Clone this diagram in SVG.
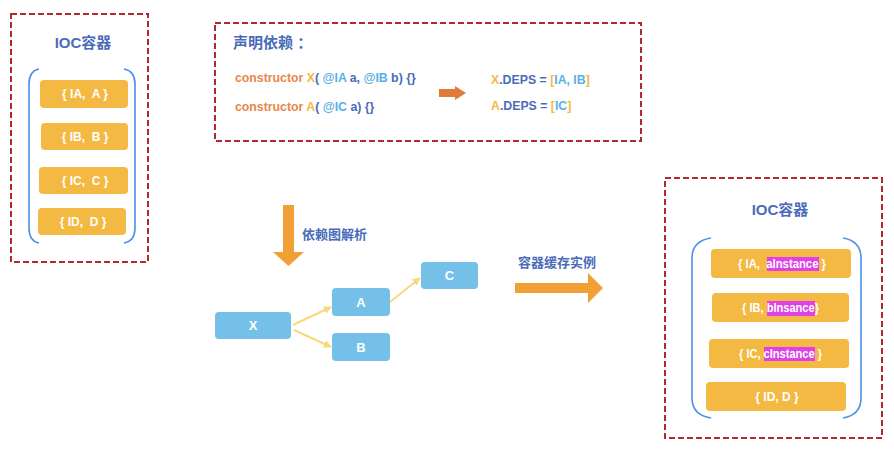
<svg xmlns="http://www.w3.org/2000/svg" width="894" height="451" viewBox="0 0 894 451">
<style>
.frame{fill:none;stroke:#b3282d;stroke-width:2;stroke-dasharray:6 3}
.brk{fill:none;stroke:#4a90e8;stroke-width:1.6}
.ybox{fill:#f4b942}
.bbox{fill:#74c0e8}
.wt{font-family:"Liberation Sans",Arial,sans-serif;font-weight:bold;fill:#fff;font-size:12px;white-space:pre}
.nt{font-family:"Liberation Sans",Arial,sans-serif;font-weight:bold;fill:#fff;font-size:13px;text-anchor:middle}
.title{font-family:"Liberation Sans","Noto Sans CJK SC",sans-serif;font-weight:bold;fill:#4a6cb8;font-size:15px}
.lbl{font-family:"Liberation Sans","Noto Sans CJK SC",sans-serif;font-weight:bold;fill:#4a6cb8;font-size:13px}
.code{font-family:"Liberation Sans",Arial,sans-serif;font-weight:bold;font-size:12.3px}
.o{fill:#e8884a}.y{fill:#f5b942}.d{fill:#4a6cb8}.l{fill:#5ab0e6}
.hl{fill:#e040e8}
.conn{stroke:#f7d97a;stroke-width:2;fill:none;marker-end:url(#ah)}
</style>
<defs>
<marker id="ah" viewBox="0 0 10 10" refX="9" refY="5" markerWidth="4" markerHeight="4" orient="auto">
<path d="M0,0 L10,5 L0,10 z" fill="#f7d97a"/>
</marker>
</defs>

<g id="left-container">
<rect class="frame" x="11" y="14" width="137" height="248"/>
<text class="title" x="83" y="48" text-anchor="middle">IOC容器</text>
<path class="brk" d="M39,69 Q29,71 29,84 L29,228 Q29,241 39,243"/>
<path class="brk" d="M124,69 Q135,71 135,84 L135,228 Q135,241 124,243"/>
<g id="l-ia"><rect class="ybox" x="40" y="80" width="88" height="28" rx="4"/><text class="wt" x="85" y="98" text-anchor="middle" xml:space="preserve">{ IA,  A }</text></g>
<g id="l-ib"><rect class="ybox" x="41" y="123" width="87" height="27" rx="4"/><text class="wt" x="85" y="141" text-anchor="middle" xml:space="preserve">{ IB,  B }</text></g>
<g id="l-ic"><rect class="ybox" x="39" y="167" width="89" height="27" rx="4"/><text class="wt" x="85" y="185" text-anchor="middle" xml:space="preserve">{ IC,  C }</text></g>
<g id="l-id"><rect class="ybox" x="38" y="208" width="88" height="27" rx="4"/><text class="wt" x="83" y="226" text-anchor="middle" xml:space="preserve">{ ID,  D }</text></g>
</g>

<g id="declare">
<rect class="frame" x="215" y="23" width="426" height="118"/>
<text class="title" x="233" y="48">声明依赖 ：</text>
<text class="code" x="235" y="82"><tspan class="o">constructor </tspan><tspan class="y">X</tspan><tspan class="d">( </tspan><tspan class="l">@IA</tspan><tspan class="d"> a, </tspan><tspan class="l">@IB</tspan><tspan class="d"> b) {}</tspan></text>
<text class="code" x="235" y="111"><tspan class="o">constructor </tspan><tspan class="y">A</tspan><tspan class="d">( </tspan><tspan class="l">@IC</tspan><tspan class="d"> a) {}</tspan></text>
<path d="M439,89 L455,89 L455,86 L466,93 L455,100 L455,97 L439,97 z" fill="#e07b39"/>
<text class="code" x="491" y="84"><tspan class="y">X</tspan><tspan class="d">.DEPS = </tspan><tspan class="y">[</tspan><tspan class="l">IA, IB</tspan><tspan class="y">]</tspan></text>
<text class="code" x="491" y="110"><tspan class="y">A</tspan><tspan class="d">.DEPS = </tspan><tspan class="y">[</tspan><tspan class="l">IC</tspan><tspan class="y">]</tspan></text>
</g>

<g id="parse-arrow">
<path d="M283,205 L294,205 L294,252 L304,252 L288.5,266 L273,252 L283,252 z" fill="#f0a035"/>
<text class="lbl" x="302" y="239">依赖图解析</text>
</g>

<g id="cache-arrow">
<text class="lbl" x="518" y="267">容器缓存实例</text>
<path d="M515,283 L588,283 L588,273 L603,288 L588,303 L588,293 L515,293 z" fill="#f0a035"/>
</g>

<g id="connectors">
<line class="conn" x1="293" y1="325" x2="331" y2="307"/>
<line class="conn" x1="294" y1="330" x2="331" y2="347"/>
<line class="conn" x1="390" y1="302" x2="420" y2="278"/>
</g>

<g id="node-x"><rect class="bbox" x="215" y="312" width="76" height="27" rx="4"/><text class="nt" x="253" y="330">X</text></g>
<g id="node-a"><rect class="bbox" x="332" y="288" width="58" height="28" rx="4"/><text class="nt" x="361" y="307">A</text></g>
<g id="node-b"><rect class="bbox" x="332" y="333" width="58" height="28" rx="4"/><text class="nt" x="361" y="352">B</text></g>
<g id="node-c"><rect class="bbox" x="421" y="262" width="57" height="27" rx="4"/><text class="nt" x="449.5" y="280">C</text></g>

<g id="right-container">
<rect class="frame" x="665" y="178" width="217" height="260"/>
<text class="title" x="780" y="215" text-anchor="middle">IOC容器</text>
<path class="brk" d="M711,238 Q692,241 692,258 L692,398 Q692,415 711,418"/>
<path class="brk" d="M843,238 Q861,241 861,258 L861,398 Q861,415 843,418"/>
<g id="r-ia"><rect class="ybox" x="711" y="249" width="140" height="29" rx="4"/><rect class="hl" x="767" y="257" width="52" height="14"/><text class="wt" x="738" y="268" textLength="88" lengthAdjust="spacingAndGlyphs" xml:space="preserve">{ IA,  aInstance }</text></g>
<g id="r-ib"><rect class="ybox" x="712" y="293" width="137" height="29" rx="4"/><rect class="hl" x="767" y="301" width="48" height="15"/><text class="wt" x="742" y="312" textLength="77" lengthAdjust="spacingAndGlyphs" xml:space="preserve">{ IB, bInsance}</text></g>
<g id="r-ic"><rect class="ybox" x="709" y="339" width="140" height="29" rx="4"/><rect class="hl" x="764" y="347" width="51" height="14"/><text class="wt" x="739" y="358" textLength="83" lengthAdjust="spacingAndGlyphs" xml:space="preserve">{ IC, cInstance }</text></g>
<g id="r-id"><rect class="ybox" x="706" y="382" width="140" height="29" rx="4"/><text class="wt" x="777" y="401" text-anchor="middle">{ ID, D }</text></g>
</g>
</svg>
